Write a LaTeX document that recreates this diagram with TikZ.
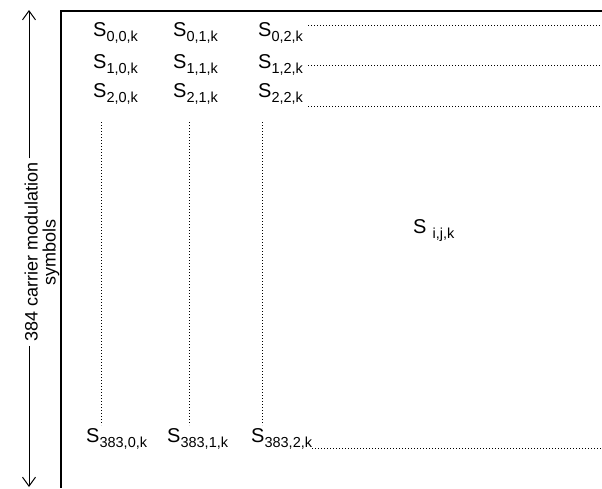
\documentclass[tikz,border=0pt]{standalone}
\usepackage{fontspec}
\setmainfont{Liberation Sans}
\usetikzlibrary{arrows.meta}

\newcommand{\sub}[1]{\lower5pt\hbox{\fontsize{14.5}{16}\selectfont #1}}
\newcommand{\sym}[1]{S\sub{#1}}

\begin{document}
\begin{tikzpicture}[
    x=1pt, y=-1pt,
    symbol/.style={anchor=base west, inner sep=0pt, font=\fontsize{20}{22}\selectfont},
    dots/.style={line width=0.8pt, dash pattern=on 0.8pt off 2.2pt},
    frame/.style={line width=1.6pt},
    span/.style={line width=1pt, -{Straight Barb[length=9pt,width=13pt]}}
]
    \useasboundingbox (0,0) rectangle (602,488);

    \draw[frame] (602,11) -- (61,11) -- (61,488);

    \node[
        rotate=90,
        align=center,
        inner sep=4pt,
        font=\fontsize{18}{18}\selectfont
    ] (carriers) at (42,252) {384 carrier modulation\\symbols};
    \coordinate (top) at (29,10);
    \coordinate (bottom) at (29,487);
    \draw[span] (carriers.east -| top) -- (top);
    \draw[span] (carriers.west -| bottom) -- (bottom);

    \begin{scope}
        \node[symbol] (s00) at (93,36) {\sym{0,0,k}};
        \node[symbol] (s01) at (173,36) {\sym{0,1,k}};
        \node[symbol] (s02) at (258,36) {\sym{0,2,k}};
        \node[symbol] (s10) at (93,68) {\sym{1,0,k}};
        \node[symbol] (s11) at (173,68) {\sym{1,1,k}};
        \node[symbol] (s12) at (258,68) {\sym{1,2,k}};
        \node[symbol] (s20) at (93,97) {\sym{2,0,k}};
        \node[symbol] (s21) at (173,97) {\sym{2,1,k}};
        \node[symbol] (s22) at (258,97) {\sym{2,2,k}};
        \foreach \y in {25,65,106}
            \draw[dots] (308,\y) -- (602,\y);
    \end{scope}

    \foreach \x in {101,189,262}
        \draw[dots] (\x,122) -- (\x,425);

    \begin{scope}
        \node[symbol] (s3830) at (86,442) {\sym{383,0,k}};
        \node[symbol] (s3831) at (167,442) {\sym{383,1,k}};
        \node[symbol] (s3832) at (251,442) {\sym{383,2,k}};
        \draw[dots] (s3832.east |- 0,448) -- (602,448);
    \end{scope}

    \node[symbol] (sijk) at (413,233) {S\hspace{6pt}\sub{i,j,k}};
\end{tikzpicture}
\end{document}
